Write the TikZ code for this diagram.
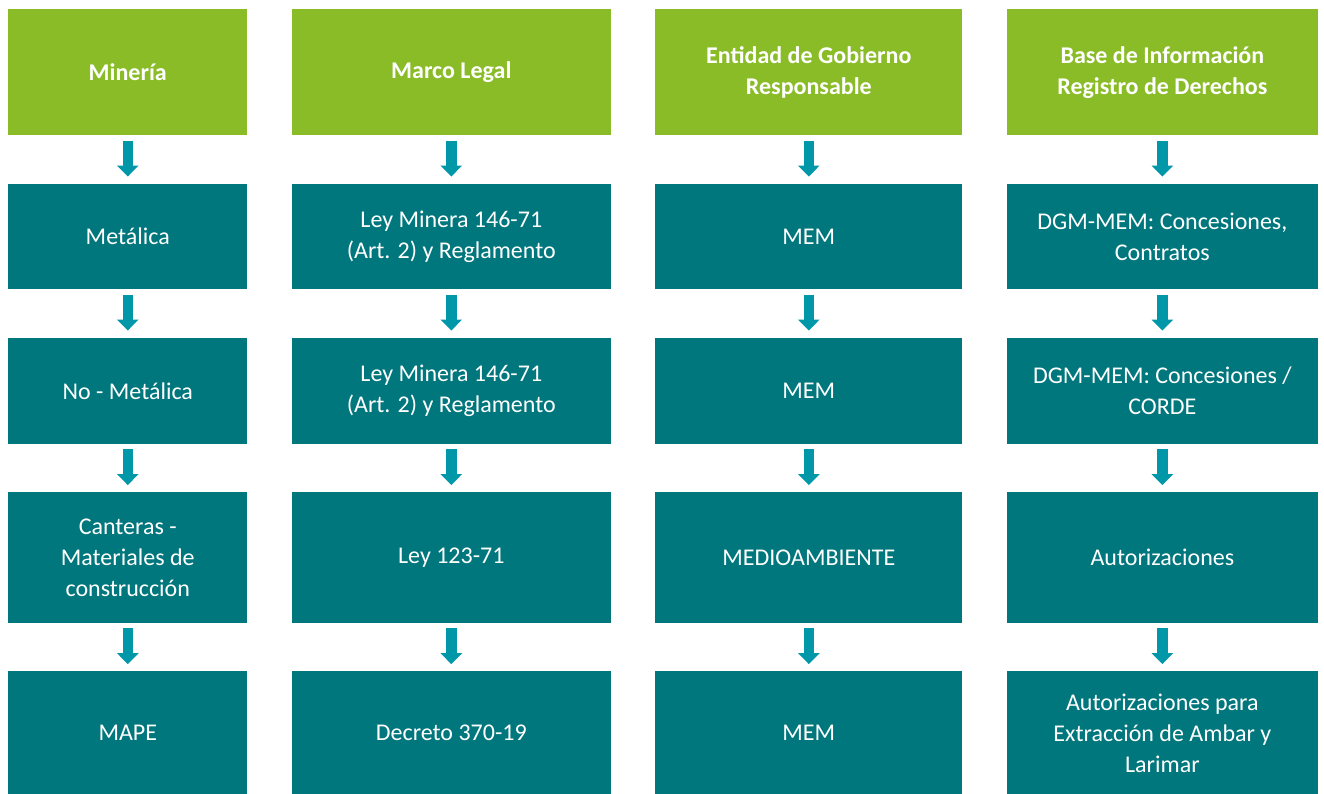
\documentclass[tikz,border=0pt]{standalone}
\usepackage{fontspec}
\setmainfont{Carlito}
\usepackage{tikz}
\usetikzlibrary{arrows.meta, positioning}

\definecolor{headgreen}{HTML}{8ABC28}
\definecolor{boxteal}{HTML}{00767D}
\definecolor{arrowteal}{HTML}{0098A8}

\begin{document}
\begin{tikzpicture}[
                node distance=36pt and 33pt,
                box/.style={fill=boxteal, text=white, inner sep=0pt, align=center, font=\fontsize{18}{23.25}\selectfont},
                head/.style={box, fill=headgreen, minimum height=94.5pt, font=\fontsize{18}{23.25}\selectfont\bfseries},
                colA/.style={minimum width=179.25pt},
                colB/.style={minimum width=239.25pt},
                colC/.style={minimum width=230.25pt},
                colD/.style={minimum width=233.25pt},
                rowA/.style={minimum height=79.1pt},
                rowB/.style={minimum height=79.5pt},
                rowC/.style={minimum height=97.9pt},
                rowD/.style={minimum height=92.25pt},
                down/.style={-{Triangle[width=15.75pt, length=8.25pt]}, line width=7.9pt, draw=arrowteal, shorten <=3.75pt, shorten >=5.25pt}
            ]
                \useasboundingbox (0,0) rectangle (993pt,-594.75pt);

                % headers
                \node[head, colA, anchor=north west] (h1) at (6pt,-6.75pt) {Minería};
                \node[head, colB, right=of h1] (h2) {Marco Legal};
                \node[head, colC, right=of h2] (h3) {Entidad de Gobierno\\Responsable};
                \node[head, colD, right=of h3] (h4) {Base de Información\\Registro de Derechos};

                % Minería
                \node[box, colA, rowA, below=of h1] (m1) {Metálica};
                \node[box, colA, rowB, below=of m1] (m2) {No - Metálica};
                \node[box, colA, rowC, below=of m2] (m3) {Canteras -\\Materiales de\\construcción};
                \node[box, colA, rowD, below=of m3] (m4) {MAPE};

                % Marco legal
                \node[box, colB, rowA, below=of h2] (l1) {Ley Minera 146-71\\(Art. 2) y Reglamento};
                \node[box, colB, rowB, below=of l1] (l2) {Ley Minera 146-71\\(Art. 2) y Reglamento};
                \node[box, colB, rowC, below=of l2] (l3) {Ley 123-71};
                \node[box, colB, rowD, below=of l3] (l4) {Decreto 370-19};

                % Entidad
                \node[box, colC, rowA, below=of h3] (e1) {MEM};
                \node[box, colC, rowB, below=of e1] (e2) {MEM};
                \node[box, colC, rowC, below=of e2] (e3) {MEDIOAMBIENTE};
                \node[box, colC, rowD, below=of e3] (e4) {MEM};

                % Registro
                \node[box, colD, rowA, below=of h4] (r1) {DGM-MEM: Concesiones,\\Contratos};
                \node[box, colD, rowB, below=of r1] (r2) {DGM-MEM: Concesiones /\\CORDE};
                \node[box, colD, rowC, below=of r2] (r3) {Autorizaciones};
                \node[box, colD, rowD, below=of r3] (r4) {Autorizaciones para\\Extracción de Ambar y\\Larimar};

                \draw[down] (h1) -- (m1);
                \draw[down] (m1) -- (m2);
                \draw[down] (m2) -- (m3);
                \draw[down] (m3) -- (m4);
                \draw[down] (h2) -- (l1);
                \draw[down] (l1) -- (l2);
                \draw[down] (l2) -- (l3);
                \draw[down] (l3) -- (l4);
                \draw[down] (h3) -- (e1);
                \draw[down] (e1) -- (e2);
                \draw[down] (e2) -- (e3);
                \draw[down] (e3) -- (e4);
                \draw[down] (h4) -- (r1);
                \draw[down] (r1) -- (r2);
                \draw[down] (r2) -- (r3);
                \draw[down] (r3) -- (r4);
            \end{tikzpicture}
\end{document}
